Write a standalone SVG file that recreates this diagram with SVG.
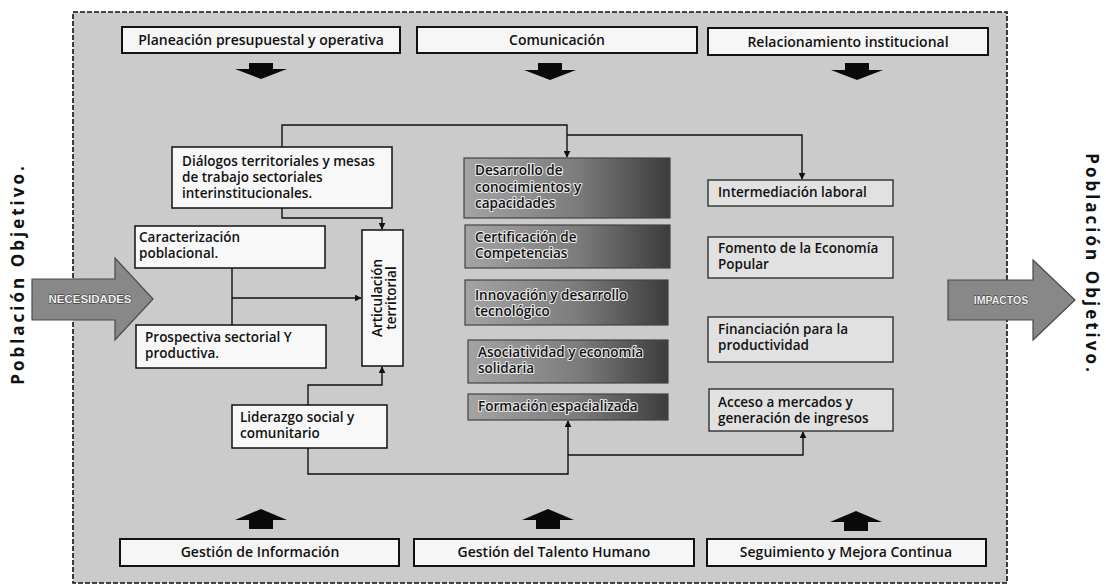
<svg xmlns="http://www.w3.org/2000/svg" width="1106" height="586" viewBox="0 0 1106 586">
<style>
  .t{font-family:"Open Sans","Liberation Sans",sans-serif;font-size:13.5px;font-weight:600;fill:#111}
  .h{font-size:14px}
  .tc{text-anchor:middle}
  .hb{fill:#f6f6f6;stroke:#111;stroke-width:2}
  .wb{fill:#f8f8f8;stroke:#111;stroke-width:1.5}
  .gb{fill:url(#dg);stroke:#444;stroke-width:1.2}
  .rb{fill:#e1e1e1;stroke:#222;stroke-width:1.3}
  .halo{stroke:#e8e8e8;stroke-width:2.2;paint-order:stroke;stroke-linejoin:round}
  .con{fill:none;stroke:#111;stroke-width:1.4}
  .blk{fill:#0a0a0a}
  .lbl{font-family:"Open Sans","Liberation Sans",sans-serif;font-size:17px;font-weight:bold;fill:#111;letter-spacing:3px}
  .big{fill:#888;stroke:#4a4a4a;stroke-width:1.2}
  .at{font-family:"Liberation Sans",sans-serif;font-weight:bold;fill:#f2f2f2;stroke:#222;stroke-width:0.8;paint-order:stroke}
</style>
<defs>
  <linearGradient id="dg" x1="0" y1="0" x2="1" y2="0">
    <stop offset="0" stop-color="#a4a4a4"/>
    <stop offset="0.55" stop-color="#7c7c7c"/>
    <stop offset="1" stop-color="#3c3c3c"/>
  </linearGradient>
  <marker id="ah" viewBox="0 0 10 10" refX="9" refY="5" markerWidth="7" markerHeight="7" orient="auto" markerUnits="userSpaceOnUse">
    <path d="M0,0 L10,5 L0,10 z" fill="#111"/>
  </marker>
</defs>

<!-- outer frame -->
<rect x="73" y="12" width="934" height="571" fill="#cbcbcb" stroke="#111" stroke-width="1.6" stroke-dasharray="5 2"/>

<!-- side labels -->
<text class="lbl tc" transform="translate(24,274) rotate(-90)">Población Objetivo.</text>
<text class="lbl tc" transform="translate(1086,264) rotate(90)">Población Objetivo.</text>

<!-- big arrows -->
<g id="arrow-in">
  <path class="big" d="M32,279 H115 V258 L153,299 L115,340 V320 H32 Z"/>
  <text class="at tc" x="90" y="303" font-size="11.5">NECESIDADES</text>
</g>
<g id="arrow-out">
  <path class="big" d="M948,280 H1033 V260 L1075,300 L1033,340 V320 H948 Z"/>
  <text class="at tc" x="1001" y="304" font-size="10.5">IMPACTOS</text>
</g>

<!-- top support boxes -->
<g id="planeacion"><rect class="hb" x="122" y="27" width="278" height="26"/><text class="t h tc" x="261" y="45">Planeación presupuestal y operativa</text></g>
<g id="comunicacion"><rect class="hb" x="417" y="27" width="280" height="26"/><text class="t h tc" x="557" y="45">Comunicación</text></g>
<g id="relacionamiento"><rect class="hb" x="708" y="28" width="280" height="27"/><text class="t h tc" x="848" y="47">Relacionamiento institucional</text></g>

<!-- top block arrows -->
<g id="top-arrows" class="blk">
  <path d="M249,63 H273 V69 H287 L261,79 L235,69 H249 Z"/>
  <path d="M538,63 H562 V70 H576 L550,80 L524,70 H538 Z"/>
  <path d="M845,63 H869 V70 H883 L857,80 L831,70 H845 Z"/>
</g>

<!-- bottom support boxes -->
<g id="gestion-info"><rect class="hb" x="120" y="539" width="279" height="27"/><text class="t h tc" x="260" y="557">Gestión de Información</text></g>
<g id="gestion-talento"><rect class="hb" x="414" y="539" width="280" height="27"/><text class="t h tc" x="554" y="557">Gestión del Talento Humano</text></g>
<g id="seguimiento"><rect class="hb" x="707" y="539" width="279" height="27"/><text class="t h tc" x="846" y="557">Seguimiento y Mejora Continua</text></g>

<!-- bottom block arrows -->
<g id="bottom-arrows" class="blk">
  <path d="M249,529 H273 V520 H287 L261,509 L235,520 H249 Z"/>
  <path d="M536,529 H560 V520 H574 L548,509 L522,520 H536 Z"/>
  <path d="M844,531 H868 V522 H882 L856,511 L830,522 H844 Z"/>
</g>

<!-- left column -->
<g id="dialogos"><rect class="wb" x="172" y="147" width="220" height="61"/>
  <text class="t" x="182" y="166">Diálogos territoriales y mesas</text>
  <text class="t" x="182" y="182">de trabajo sectoriales</text>
  <text class="t" x="182" y="198">interinstitucionales.</text></g>
<g id="caracterizacion"><rect class="wb" x="135" y="226" width="190" height="42"/>
  <text class="t" x="139" y="242">Caracterización</text>
  <text class="t" x="139" y="258">poblacional.</text></g>
<g id="prospectiva"><rect class="wb" x="136" y="325" width="190" height="43"/>
  <text class="t" x="145" y="342">Prospectiva sectorial Y</text>
  <text class="t" x="145" y="358">productiva.</text></g>
<g id="articulacion"><rect class="wb" x="362" y="230" width="41" height="136"/>
  <text class="t tc" transform="translate(382,298) rotate(-90)">Articulación</text>
  <text class="t tc" transform="translate(396,298) rotate(-90)">territorial</text></g>
<g id="liderazgo"><rect class="wb" x="232" y="405" width="155" height="43"/>
  <text class="t" x="240" y="422">Liderazgo social y</text>
  <text class="t" x="240" y="438">comunitario</text></g>

<!-- middle column -->
<g id="desarrollo"><rect class="gb" x="464" y="158" width="206" height="60"/>
  <text class="t halo" x="475" y="175">Desarrollo de</text>
  <text class="t halo" x="475" y="192">conocimientos y</text>
  <text class="t halo" x="475" y="208">capacidades</text></g>
<g id="certificacion"><rect class="gb" x="465" y="225" width="205" height="43"/>
  <text class="t halo" x="475" y="242">Certificación de</text>
  <text class="t halo" x="475" y="258">Competencias</text></g>
<g id="innovacion"><rect class="gb" x="465" y="280" width="203" height="45"/>
  <text class="t halo" x="475" y="300">Innovación y desarrollo</text>
  <text class="t halo" x="475" y="316">tecnológico</text></g>
<g id="asociatividad"><rect class="gb" x="468" y="340" width="200" height="43"/>
  <text class="t halo" x="478" y="357">Asociatividad y economía</text>
  <text class="t halo" x="478" y="373">solidaria</text></g>
<g id="formacion"><rect class="gb" x="468" y="394" width="200" height="26"/>
  <text class="t halo" x="478" y="411">Formación espacializada</text></g>

<!-- right column -->
<g id="intermediacion"><rect class="rb" x="708" y="180" width="185" height="26"/>
  <text class="t" x="718" y="197">Intermediación laboral</text></g>
<g id="fomento"><rect class="rb" x="708" y="237" width="185" height="41"/>
  <text class="t" x="718" y="253">Fomento de la Economía</text>
  <text class="t" x="718" y="269">Popular</text></g>
<g id="financiacion"><rect class="rb" x="708" y="317" width="185" height="45"/>
  <text class="t" x="718" y="334">Financiación para la</text>
  <text class="t" x="718" y="350">productividad</text></g>
<g id="acceso"><rect class="rb" x="709" y="389" width="184" height="42"/>
  <text class="t" x="718" y="407">Acceso a mercados y</text>
  <text class="t" x="718" y="423">generación de ingresos</text></g>

<!-- connectors -->
<g id="connectors">
  <path class="con" d="M282,147 V125 H567 V157" marker-end="url(#ah)"/>
  <path class="con" d="M567,135 H802 V179" marker-end="url(#ah)"/>
  <path class="con" d="M282,208 V218 H382 V229" marker-end="url(#ah)"/>
  <path class="con" d="M232,268 V325"/>
  <path class="con" d="M232,298 H361" marker-end="url(#ah)"/>
  <path class="con" d="M308,405 V385 H382 V367" marker-end="url(#ah)"/>
  <path class="con" d="M308,448 V474 H568 V421" marker-end="url(#ah)"/>
  <path class="con" d="M568,455 H803 V432" marker-end="url(#ah)"/>
</g>
</svg>
